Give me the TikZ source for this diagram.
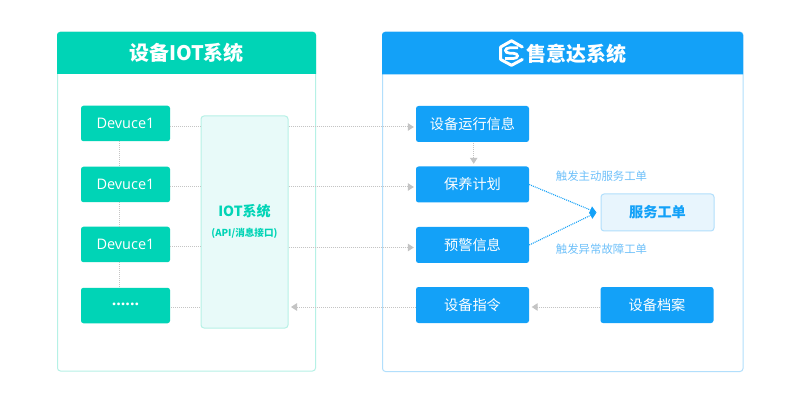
\documentclass[tikz,border=0pt]{standalone}
\usepackage{fontspec}
\setmainfont{Noto Sans CJK SC}
\newfontfamily\latinfont{Open Sans}
\usetikzlibrary{arrows.meta}
\definecolor{teal1}{HTML}{00D4B6}
\definecolor{tealborder}{HTML}{B6F1E6}
\definecolor{tealfill}{HTML}{E8FAF9}
\definecolor{blue1}{HTML}{13A1F8}
\definecolor{blueborder}{HTML}{B2DFFC}
\definecolor{bluefill}{HTML}{E8F5FD}
\definecolor{bluetext}{HTML}{6FC1FA}
\definecolor{graydot}{HTML}{C4C4C4}
\tikzset{
  x=1pt,y=-1pt,
  panelbox/.style={draw,line width=1pt,rounded corners=3pt,inner sep=0pt,fill=white},
  tealbox/.style={fill=teal1,rounded corners=2.5pt,inner sep=0pt,minimum width=89pt,minimum height=35.5pt,text=white,font=\latinfont\fontsize{14.5}{16}\selectfont},
  bluebox/.style={fill=blue1,rounded corners=2.5pt,inner sep=0pt,minimum width=113pt,minimum height=36pt,text=white,font=\fontsize{14.2}{16}\selectfont},
  headtext/.style={text=white,inner sep=0pt,font=\bfseries\fontsize{20}{22}\selectfont},
  notetext/.style={text=bluetext,inner sep=0pt,font=\fontsize{11.4}{13}\selectfont},
  dotline/.style={draw=graydot,line width=1pt,dash pattern=on 1pt off 1pt},
  dotarrow/.style={dotline,-{Triangle[length=6pt,width=7.5pt,fill=graydot]},shorten >=0.5pt},
  bluearrow/.style={draw=blue1,line width=1.1pt,dash pattern=on 1pt off 1pt,-{Triangle[length=6.5pt,width=7.5pt,fill=blue1]}},
}
\begin{document}
\begin{tikzpicture}
\useasboundingbox (0,0) rectangle (800,403);
\fill[white] (0,0) rectangle (800,403);
% panels
\node[panelbox,draw=tealborder,minimum width=258pt,minimum height=339pt] (leftpanel) at (186.5,201.5) {};
\node[panelbox,draw=blueborder,minimum width=360.5pt,minimum height=339.5pt] (rightpanel) at (562.75,201.75) {};
\fill[teal1] (57,74) [rounded corners=3pt] -- (57,32) -- (316,32) [sharp corners] -- (316,74) -- cycle;
\fill[blue1] (382,74.5) [rounded corners=3pt] -- (382,32) -- (743,32) [sharp corners] -- (743,74.5) -- cycle;
\node[headtext] (lefttitle) at (186.5,53) {设备IOT系统};
\node[headtext] (righttitle) at (576.5,53.5) {售意达系统};
% logo
\draw[white,line width=3pt,line join=round,line cap=round] (522.3,47) -- (511.5,40.8) -- (500.7,47) -- (500.7,59.5) -- (511.5,65.3) -- (522.3,59.5);
\draw[white,line width=2.8pt,line cap=butt] (518,47.8) -- (510,47.8) .. controls (504,47.8) and (504,53.2) .. (510,53.2) -- (513,53.2) .. controls (519,53.2) and (519,58.6) .. (513,58.6) -- (505,58.6);
% devices
\node[tealbox] (d1) at (125.5,123.5) {Devuce1};
\node[tealbox] (d2) at (125.5,184.5) {Devuce1};
\node[tealbox] (d3) at (125.5,244.5) {Devuce1};
\node[tealbox,font=\latinfont\bfseries\fontsize{16}{16}\selectfont] (d4) at (125.5,305.5) {\raisebox{3pt}{......}};
% iot
\node[draw=tealborder,fill=tealfill,line width=1pt,rounded corners=3pt,minimum width=87pt,minimum height=212pt,inner sep=0pt] (iot) at (244.5,222) {};
\node[text=teal1,inner sep=0pt,font=\bfseries\fontsize{14}{16}\selectfont] (iottitle) at (244.5,211.5) {IOT系统};
\node[text=teal1,inner sep=0pt,font=\bfseries\fontsize{9.6}{12}\selectfont] (iotsub) at (244.5,233.5) {(API/消息接口)};
% blue boxes
\node[bluebox] (b1) at (472.5,124) {设备运行信息};
\node[bluebox] (b2) at (472.5,184.5) {保养计划};
\node[bluebox] (b3) at (472.5,245) {预警信息};
\node[bluebox] (b4) at (472.5,305) {设备指令};
\node[bluebox] (b5) at (657,305) {设备档案};
\node[draw=blueborder,fill=bluefill,line width=1pt,rounded corners=3pt,minimum width=113pt,minimum height=37pt,inner sep=0pt,text=blue1,font=\bfseries\fontsize{14.2}{16}\selectfont] (svc) at (657.5,212.5) {服务工单};
\node[notetext] (n1) at (601.5,176.5) {触发主动服务工单};
\node[notetext] (n2) at (601.5,249.5) {触发异常故障工单};
% vertical dotted links
\draw[dotline] ([xshift=-6.5pt]d1.south) -- ([xshift=-6.5pt]d2.north);
\draw[dotline] ([xshift=-6.5pt]d2.south) -- ([xshift=-6.5pt]d3.north);
\draw[dotline] ([xshift=-6.5pt]d3.south) -- ([xshift=-6.5pt]d4.north);
% attachment points
\coordinate (p1) at ([yshift=-3pt]d1.east);
\coordinate (p2) at ([yshift=-2.5pt]d2.east);
\coordinate (p3) at ([yshift=-2.5pt]d3.east);
\coordinate (p4) at ([yshift=-1.5pt,xshift=1pt]d4.east);
\coordinate (q1) at ([yshift=-3pt]b1.west);
\coordinate (q2) at ([yshift=-2.5pt]b2.west);
\coordinate (q3) at ([yshift=-2.5pt]b3.west);
\coordinate (q4) at ([yshift=-2pt]b4.west);
% device to iot
\draw[dotline] (p1) -- (iot.west |- p1);
\draw[dotline] (p2) -- (iot.west |- p2);
\draw[dotline] (p3) -- (iot.west |- p3);
\draw[dotline] (p4) -- (iot.west |- p4);
% iot to saas
\draw[dotarrow] (iot.east |- q1) -- ([xshift=-1.5pt]q1);
\draw[dotarrow] (iot.east |- q2) -- ([xshift=-1.5pt]q2);
\draw[dotarrow] (iot.east |- q3) -- ([xshift=-1.5pt]q3);
\coordinate (iotback) at ([xshift=2pt]iot.east |- q4);
\draw[dotarrow] (q4) -- (iotback);
% within saas
\draw[dotarrow] ([xshift=1.2pt,yshift=-1pt]b1.south) -- ([xshift=1.2pt,yshift=2pt]b2.north);
\draw[dotarrow] ([yshift=-2pt]b5.west) -- ([xshift=2pt,yshift=-2pt]b4.east);
\draw[bluearrow] (b2.east) -- ([xshift=-4pt]svc.west);
\draw[bluearrow] (b3.east) -- ([xshift=-4pt]svc.west);
\end{tikzpicture}
\end{document}
